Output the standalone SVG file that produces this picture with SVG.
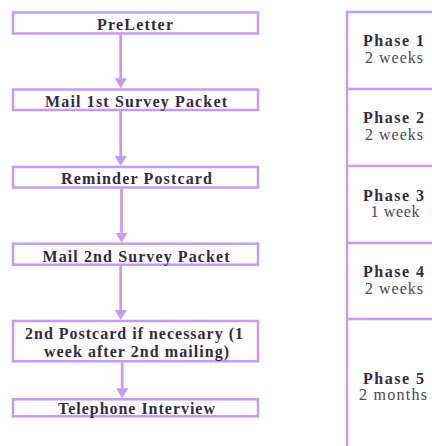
<svg xmlns="http://www.w3.org/2000/svg" width="432" height="446" viewBox="0 0 432 446">
<defs>
<style>
.box{fill:#fff;stroke:#c99af5;stroke-width:2.5}
.con{stroke:#c99af5;stroke-width:2.8;fill:none}
.grid{stroke:#c99af5;stroke-width:2.5;fill:none}
.t{font-family:"Liberation Serif","Times New Roman",serif;font-weight:bold;font-size:16px;fill:#332a45;text-anchor:middle}
.r{font-family:"Liberation Serif","Times New Roman",serif;font-size:16px;fill:#4a4358;text-anchor:middle}
</style>
<marker id="ah" viewBox="0 0 10 12" refX="0" refY="6" markerWidth="10" markerHeight="12" markerUnits="userSpaceOnUse" orient="auto">
<path d="M0,0 L10,6 L0,12 z" fill="#c99af5"/>
</marker>
</defs>
<rect width="432" height="446" fill="#fff"/>
<g id="connectors">
<line class="con" x1="120.7" y1="33.5" x2="120.7" y2="78.3" marker-end="url(#ah)"/>
<line class="con" x1="120.7" y1="110.5" x2="120.7" y2="156" marker-end="url(#ah)"/>
<line class="con" x1="121.5" y1="188.5" x2="121.5" y2="232.7" marker-end="url(#ah)"/>
<line class="con" x1="120.7" y1="265.5" x2="120.7" y2="310" marker-end="url(#ah)"/>
<line class="con" x1="122.2" y1="362.5" x2="122.2" y2="388.3" marker-end="url(#ah)"/>
</g>
<g id="n1"><rect class="box" x="13" y="12.5" width="245" height="21"/><text class="t" x="135" y="30" textLength="76" lengthAdjust="spacing">PreLetter</text></g>
<g id="n2"><rect class="box" x="13" y="89.5" width="245" height="20.5"/><text class="t" x="136" y="106.5" textLength="182" lengthAdjust="spacing">Mail 1st Survey Packet</text></g>
<g id="n3"><rect class="box" x="13" y="167" width="245" height="20.5"/><text class="t" x="136.5" y="184" textLength="151" lengthAdjust="spacing">Reminder Postcard</text></g>
<g id="n4"><rect class="box" x="13" y="243.7" width="245" height="21"/><text class="t" x="136" y="261.5" textLength="187" lengthAdjust="spacing">Mail 2nd Survey Packet</text></g>
<g id="n5"><rect class="box" x="13" y="321" width="245" height="40.3"/><text class="t" x="134" y="339" textLength="218" lengthAdjust="spacing">2nd Postcard if necessary (1</text><text class="t" x="136.5" y="357" textLength="185" lengthAdjust="spacing">week after 2nd mailing)</text></g>
<g id="n6"><rect class="box" x="13" y="399.3" width="245" height="17"/><text class="t" x="136.5" y="413.5" textLength="157" lengthAdjust="spacing">Telephone Interview</text></g>
<g id="phases">
<path class="grid" d="M347,446 V12 H432 M347,89 H432 M347,166 H432 M347,243 H432 M347,319 H432"/>
<text class="t" x="393.5" y="46" textLength="61" lengthAdjust="spacing">Phase 1</text>
<text class="r" x="394" y="63" textLength="58" lengthAdjust="spacing">2 weeks</text>
<text class="t" x="393.5" y="123" textLength="61" lengthAdjust="spacing">Phase 2</text>
<text class="r" x="394" y="140" textLength="58" lengthAdjust="spacing">2 weeks</text>
<text class="t" x="393.5" y="201" textLength="61" lengthAdjust="spacing">Phase 3</text>
<text class="r" x="395" y="217" textLength="49" lengthAdjust="spacing">1 week</text>
<text class="t" x="393.5" y="277" textLength="61" lengthAdjust="spacing">Phase 4</text>
<text class="r" x="394" y="294" textLength="58" lengthAdjust="spacing">2 weeks</text>
<text class="t" x="393.5" y="384" textLength="61" lengthAdjust="spacing">Phase 5</text>
<text class="r" x="393" y="400" textLength="68" lengthAdjust="spacing">2 months</text>
</g>
</svg>
